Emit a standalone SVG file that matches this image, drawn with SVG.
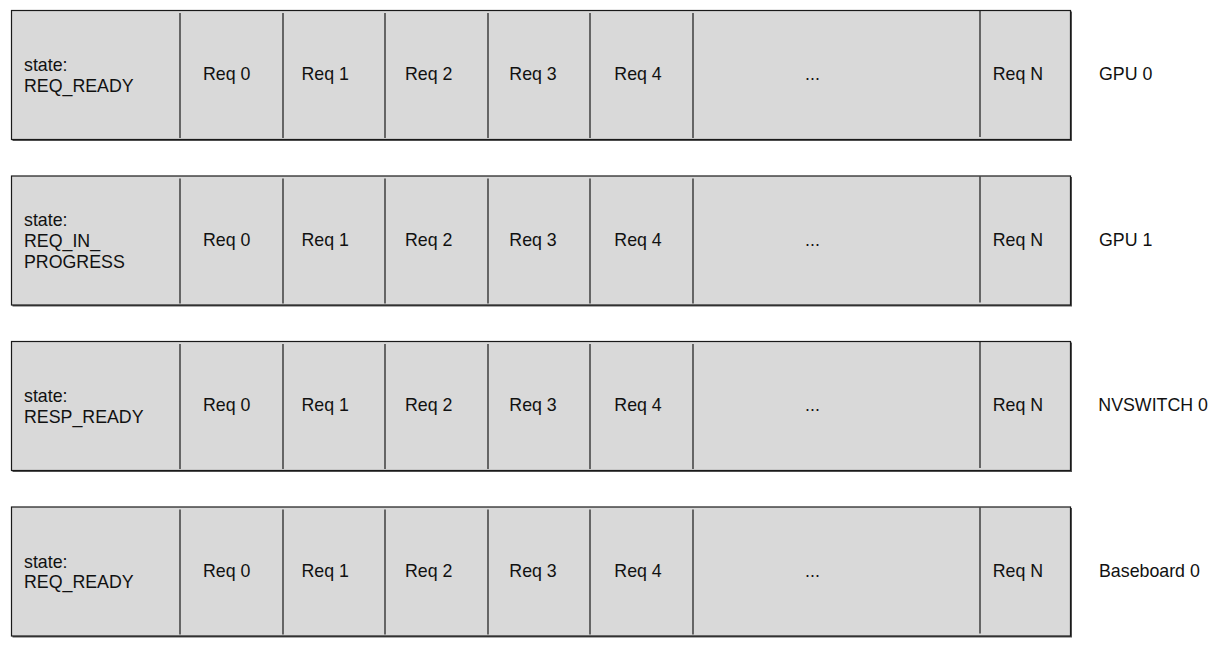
<svg xmlns="http://www.w3.org/2000/svg" width="1220" height="654" viewBox="0 0 1220 654">
<style>
  .shadow { fill: #555; stroke: none; }
  .box { fill: #d9d9d9; stroke: #1a1a1a; stroke-width: 1.2; }
  .div { stroke: #1a1a1a; stroke-width: 1.2; fill: none; }
  text { font-family: "Liberation Sans", Arial, sans-serif; font-size: 17.8px; fill: #111; }
</style>
<defs>
  <g id="cells">
    <rect class="shadow" x="12.5" y="1.5" width="1059.5" height="129.5"/>
    <rect class="box" x="11.5" y="0.5" width="1059" height="129"/>
    <path class="div" d="M180,3V128 M283,3V128 M385,3V128 M488,3V128 M590,3V128 M693,3V128 M980,1V127"/>
    <text x="203" y="70">Req 0</text>
    <text x="301.5" y="70">Req 1</text>
    <text x="405" y="70">Req 2</text>
    <text x="509.3" y="70">Req 3</text>
    <text x="614.3" y="70">Req 4</text>
    <text x="805" y="70">...</text>
    <text x="992.7" y="70">Req N</text>
  </g>
</defs>
<g id="gpu0" transform="translate(0,10)">
  <use href="#cells"/>
  <text x="24" y="61">state:</text>
  <text x="24" y="81.5">REQ_READY</text>
  <text x="1099" y="70">GPU 0</text>
</g>
<g id="gpu1" transform="translate(0,175.5)">
  <use href="#cells"/>
  <text x="24" y="50">state:</text>
  <text x="24" y="71">REQ_IN_</text>
  <text x="24" y="92">PROGRESS</text>
  <text x="1099" y="70">GPU 1</text>
</g>
<g id="nvswitch0" transform="translate(0,341)">
  <use href="#cells"/>
  <text x="24" y="61">state:</text>
  <text x="24" y="81.5">RESP_READY</text>
  <text x="1098.3" y="70">NVSWITCH 0</text>
</g>
<g id="baseboard0" transform="translate(0,506.5)">
  <use href="#cells"/>
  <text x="24" y="61">state:</text>
  <text x="24" y="81.5">REQ_READY</text>
  <text x="1099" y="70">Baseboard 0</text>
</g>
</svg>
